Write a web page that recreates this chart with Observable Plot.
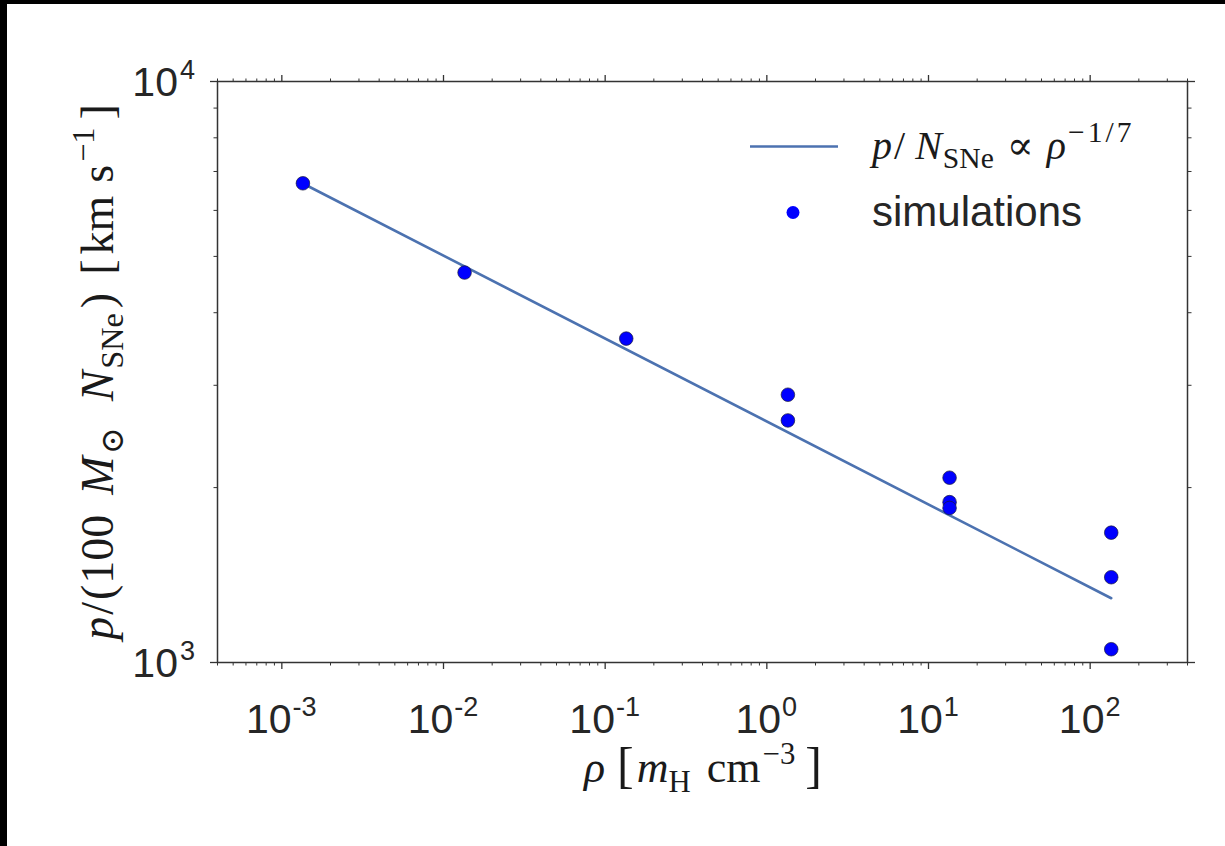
<!DOCTYPE html>
<html>
<head>
<meta charset="utf-8">
<script src="https://cdn.jsdelivr.net/npm/d3@7"></script>
<script src="https://cdn.jsdelivr.net/npm/@observablehq/plot@0.6"></script>
<style>
  html, body { margin: 0; padding: 0; background: #fff; }
  #wrap { position: relative; width: 1225px; height: 846px; overflow: hidden; background: #fff; }
  #wrap svg { position: absolute; left: 0; top: 0; }
  .bar { position: absolute; background: #000; }
</style>
</head>
<body>
<div id="wrap">
  <div class="bar" style="left:0;top:0;width:1225px;height:4px;"></div>
  <div class="bar" style="left:0;top:0;width:7px;height:846px;"></div>
</div>
<script>
// ---- data ----
const rho = [1.35e-3, 1.35e-2, 1.35e-1, 1.35, 1.35, 13.5, 13.5, 13.5, 135, 135, 135];
const pSim = [6680, 4690, 3610, 2890, 2610, 2080, 1888, 1845, 1673, 1402, 1054];
const fitRho = [1.35e-3, 135];
const fitP = [6675, 1290];
const xMajor = [1e-3, 1e-2, 1e-1, 1e0, 1e1, 1e2];
const xExp = ["-3", "-2", "-1", "0", "1", "2"];
const xMinor = [4e-4,5e-4,6e-4,7e-4,8e-4,9e-4,
  2e-3,3e-3,4e-3,5e-3,6e-3,7e-3,8e-3,9e-3,
  2e-2,3e-2,4e-2,5e-2,6e-2,7e-2,8e-2,9e-2,
  2e-1,3e-1,4e-1,5e-1,6e-1,7e-1,8e-1,9e-1,
  2,3,4,5,6,7,8,9, 20,30,40,50,60,70,80,90, 200,300,400];
const yMajor = [1e3, 1e4];
const yExp = ["3", "4"];
const yMinor = [2000,3000,4000,5000,6000,7000,8000,9000];

const sims = rho.map((r, i) => ({rho: r, p: pSim[i]}));
const fit = fitRho.map((r, i) => ({rho: r, p: fitP[i]}));

const axisColor = "#333333";
const noText = () => "";

const chart = Plot.plot({
  width: 1225,
  height: 846,
  marginLeft: 217,
  marginRight: 38,
  marginTop: 81,
  marginBottom: 184,
  style: {background: "transparent", overflow: "visible"},
  x: {type: "log", domain: [4e-4, 400]},
  y: {type: "log", domain: [1000, 10000]},
  marks: [
    Plot.axisX({anchor: "bottom", ticks: xMajor, tickSize: 7, tickFormat: noText, stroke: axisColor, strokeWidth: 1.3, label: null}),
    Plot.axisX({anchor: "bottom", ticks: xMinor, tickSize: 3.5, tickFormat: noText, stroke: axisColor, strokeWidth: 1, label: null}),
    Plot.axisX({anchor: "top", ticks: xMajor, tickSize: 7, tickFormat: noText, stroke: axisColor, strokeWidth: 1.3, label: null}),
    Plot.axisX({anchor: "top", ticks: xMinor, tickSize: 3.5, tickFormat: noText, stroke: axisColor, strokeWidth: 1, label: null}),
    Plot.axisY({anchor: "left", ticks: yMajor, tickSize: 7, tickFormat: noText, stroke: axisColor, strokeWidth: 1.3, label: null}),
    Plot.axisY({anchor: "left", ticks: yMinor, tickSize: 3.5, tickFormat: noText, stroke: axisColor, strokeWidth: 1, label: null}),
    Plot.axisY({anchor: "right", ticks: yMajor, tickSize: 7, tickFormat: noText, stroke: axisColor, strokeWidth: 1.3, label: null}),
    Plot.axisY({anchor: "right", ticks: yMinor, tickSize: 3.5, tickFormat: noText, stroke: axisColor, strokeWidth: 1, label: null}),
    Plot.frame({stroke: axisColor, strokeWidth: 1.5}),
    Plot.line(fit, {x: "rho", y: "p", stroke: "#4C72B0", strokeWidth: 2.6}),
    Plot.dot(sims, {x: "rho", y: "p", r: 6.8, fill: "#0000FF", stroke: "#1a1a3a", strokeWidth: 0.7})
  ]
});
document.getElementById("wrap").appendChild(chart);

// ---- text helpers ----
const svg = d3.select(chart);
const sx = chart.scale("x");
const sy = chart.scale("y");
const SANS = "'Liberation Sans', Arial, sans-serif";
const SERIF = "'Liberation Serif', 'DejaVu Serif', serif";

function rich(parent, parts, o) {
  const size = o.size;
  const t = parent.append("text")
    .attr("x", o.x || 0).attr("y", o.y || 0)
    .attr("font-family", o.family).attr("font-size", size)
    .attr("text-anchor", o.anchor || "start")
    .attr("fill", o.fill || "#262626");
  if (o.transform) t.attr("transform", o.transform);
  let shift = 0;
  for (const p of parts) {
    const target = p.sup ? -(o.supShift || 0.42) * size : p.sub ? (o.subShift || 0.22) * size : 0;
    const ts = t.append("tspan").attr("dy", target - shift).text(p.t);
    shift = target;
    if (p.dx) ts.attr("dx", p.dx);
    if (p.it) ts.attr("font-style", "italic");
    if (p.sup || p.sub) ts.attr("font-size", size * (o.scriptScale || 0.7));
    if (p.size) ts.attr("font-size", p.size);
    if (p.ls) ts.attr("letter-spacing", p.ls);
  }
  return t;
}

const g = svg.append("g");

// x tick labels
const xLabelY = 733;
xMajor.forEach((v, i) => {
  rich(g, [{t: "10"}, {t: xExp[i], sup: true, dx: 1}], {
    x: sx.apply(v), y: xLabelY, family: SANS, size: 41, anchor: "middle", supShift: 0.42, scriptScale: 0.66
  });
});
// y tick labels
yMajor.forEach((v, i) => {
  rich(g, [{t: "10"}, {t: yExp[i], sup: true, dx: 2}], {
    x: 195, y: sy.apply(v) + 15, family: SANS, size: 41, anchor: "end", supShift: 0.42, scriptScale: 0.66
  });
});

// axis labels
rich(g, [
  {t: "ρ", it: true}, {t: "[", dx: 12, size: 50}, {t: "m", it: true, dx: 3}, {t: "H", sub: true},
  {t: "cm", dx: 16}, {t: "−3", sup: true, dx: 2}, {t: "]", dx: 10, size: 50}
], {x: 703, y: 782, family: SERIF, size: 44, anchor: "middle", fill: "#1a1a1a"});

rich(g, [
  {t: "p", it: true}, {t: "/", dx: 2}, {t: "(", dx: 2}, {t: "100", dx: 1},
  {t: "M", it: true, dx: 20}, {t: "⊙", sub: true, dx: 2},
  {t: "N", it: true, dx: 26}, {t: "SNe", sub: true, dx: 2},
  {t: ")", dx: 5}, {t: "[", dx: 18}, {t: "km", dx: 5}, {t: "s", dx: 13},
  {t: "−1", sup: true, dx: 3}, {t: "]", dx: 8}
], {x: 0, y: 0, transform: "translate(113,372) rotate(-90)", family: SERIF, size: 46, anchor: "middle", fill: "#1a1a1a"});

// legend
const lg = svg.append("g");
lg.append("line").attr("x1", 750).attr("x2", 838).attr("y1", 146.5).attr("y2", 146.5)
  .attr("stroke", "#4C72B0").attr("stroke-width", 2.6);
rich(lg, [
  {t: "p", it: true}, {t: "/", dx: 2}, {t: "N", it: true, dx: 10}, {t: "SNe", sub: true, dx: 1},
  {t: "∝", dx: 13}, {t: "ρ", it: true, dx: 13}, {t: "−1/7", sup: true, dx: 2, ls: 3}
], {x: 872, y: 159, family: SERIF, size: 40, anchor: "start", fill: "#1a1a1a", scriptScale: 0.74});
lg.append("circle").attr("cx", 793).attr("cy", 212.5).attr("r", 6.5).attr("fill", "#0000FF");
rich(lg, [{t: "simulations"}], {x: 872, y: 226, family: SANS, size: 42, anchor: "start"});
</script>
</body>
</html>
